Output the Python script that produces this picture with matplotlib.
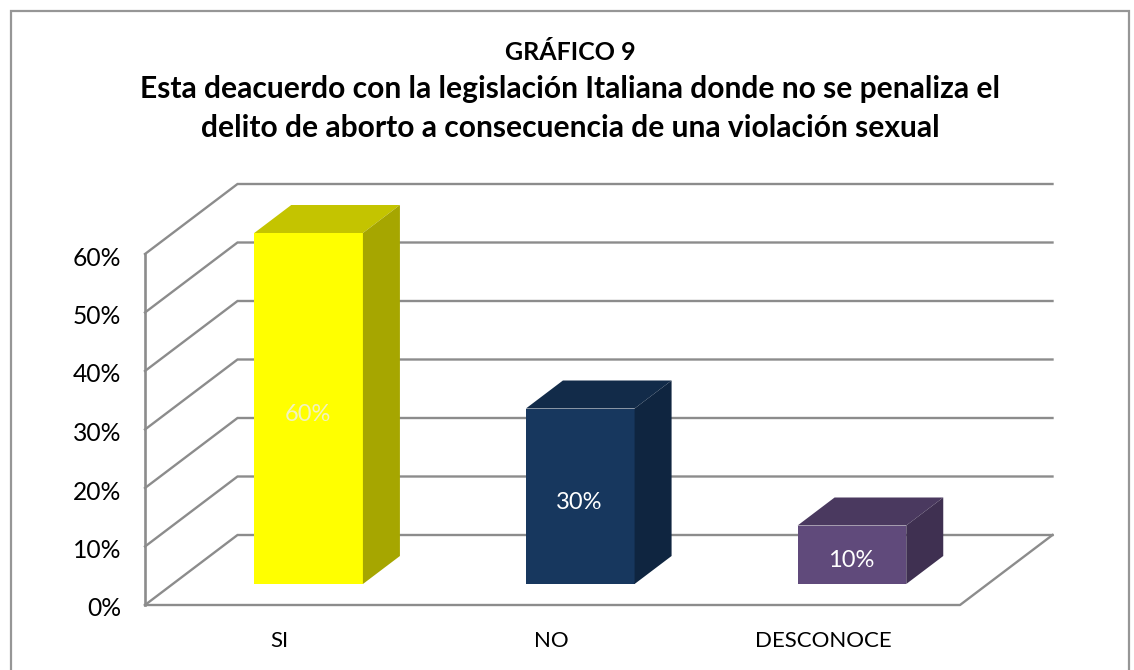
import matplotlib
matplotlib.use("Agg")
import matplotlib.pyplot as plt
from matplotlib.patches import Polygon, Rectangle

# data
categories = ["SI", "NO", "DESCONOCE"]
values = [60, 30, 10]
value_labels = ["60%", "30%", "10%"]
y_ticks = [0, 10, 20, 30, 40, 50, 60]
y_tick_labels = ["0%", "10%", "20%", "30%", "40%", "50%", "60%"]

front_colors = ["#FFFF00", "#17375E", "#604A7B"]
top_colors = ["#C4C400", "#122B49", "#4A395F"]
side_colors = ["#A6A600", "#0F2540", "#3F3051"]
label_colors = ["#F2F2C0", "white", "white"]

W, H = 1134, 670
GRID = "#8C8C8C"

plt.rcParams["font.family"] = ["Lato", "DejaVu Sans"]
fig = plt.figure(figsize=(W / 100, H / 100), dpi=100, facecolor="white")

# chart frame, cut by the bottom of the image
fig.add_artist(Rectangle((10.5 / W, -0.05), 1118.5 / W, 1.05 - 10.5 / H, transform=fig.transFigure,
                         fill=False, edgecolor="#969696", linewidth=1.6))

# axes covers the front plane: 145..960 px, 0% at 605, 60% at 254
ax = fig.add_axes([145 / W, 1 - 605 / H, 815 / W, 351 / H])
ax.set_xlim(-0.5, 2.5)
ax.set_ylim(0, 60)
ax.axis("off")

# depth of the box in data units
depth_x = 92.5 / (815 / 3)
depth_y = 70 / (351 / 60)
bar_pos = 0.30    # where the bars stand on the floor, as part of the depth
bar_depth = 0.40  # how deep the bars are
bar_width = 0.40

xl, xr = -0.5, 2.5

# back wall and side wall gridlines
for t in y_ticks:
    ax.plot([xl, xl + depth_x, xr + depth_x], [t, t + depth_y, t + depth_y],
            color=GRID, lw=1.7, clip_on=False, zorder=1, solid_joinstyle="miter")

# front edges
ax.plot([xl, xl], [0, 60], color=GRID, lw=1.9, clip_on=False, zorder=1)
ax.plot([xl, xr, xr + depth_x], [0, 0, depth_y], color=GRID, lw=1.7, clip_on=False, zorder=1)

# bars
for i, v in enumerate(values):
    x0 = i - bar_width / 2 + bar_pos * depth_x
    x1 = x0 + bar_width
    base = bar_pos * depth_y
    top = base + v
    ddx = bar_depth * depth_x
    ddy = bar_depth * depth_y
    ax.add_patch(Rectangle((x0, base), bar_width, v, facecolor=front_colors[i], edgecolor="none",
                           clip_on=False, zorder=3))
    ax.add_patch(Polygon([(x0, top), (x1, top), (x1 + ddx, top + ddy), (x0 + ddx, top + ddy)],
                         facecolor=top_colors[i], edgecolor="none", clip_on=False, zorder=3))
    ax.add_patch(Polygon([(x1, base), (x1 + ddx, base + ddy), (x1 + ddx, top + ddy), (x1, top)],
                         facecolor=side_colors[i], edgecolor="none", clip_on=False, zorder=3))
    ax.annotate(value_labels[i], ((x0 + x1) / 2, base + v / 2), xytext=(-1, -6), textcoords="offset pixels",
                color=label_colors[i], fontsize=17, ha="center", va="center", zorder=4)

# tick labels
for t, lab in zip(y_ticks, y_tick_labels):
    ax.annotate(lab, (xl, t), xytext=(-24, -4), textcoords="offset pixels", ha="right", va="center",
                fontsize=17.7, color="black", annotation_clip=False)
for i, c in enumerate(categories):
    ax.annotate(c, (i, 0), xytext=(-1, -36), textcoords="offset pixels", ha="center", va="center",
                fontsize=16, color="black", annotation_clip=False)

# title
title_lines = ["GRÁFICO 9",
               "Esta deacuerdo con la legislación Italiana donde no se penaliza el",
               "delito de aborto a consecuencia de una violación sexual"]
title_sizes = [18, 21.6, 21.6]
for line, y_px, size in zip(title_lines, [52, 89, 128], title_sizes):
    fig.text(570 / W, 1 - y_px / H, line, ha="center", va="center", fontsize=size, fontweight="bold",
             color="black")

fig.savefig("out.png", dpi=100)
